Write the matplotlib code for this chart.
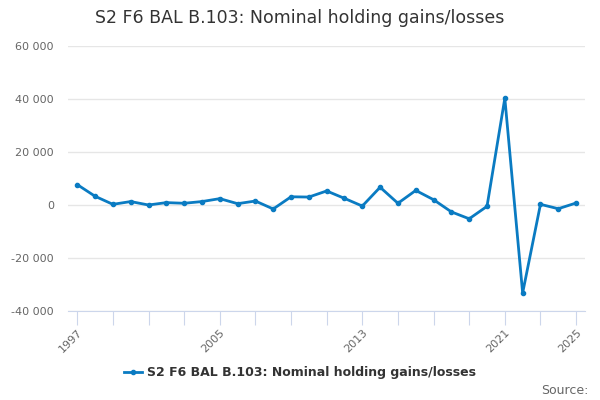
import matplotlib
matplotlib.use("Agg")
import matplotlib.pyplot as plt
from matplotlib.ticker import FuncFormatter

years = list(range(1997, 2026))
values = [7700, 3300, 250, 1300, 0, 900, 650, 1300, 2400, 500, 1500, -1500,
          3100, 3000, 5300, 2500, -400, 6700, 650, 5500, 2000, -2600, -5200,
          -500, 40300, -33200, 250, -1400, 750]
tick_years = list(range(1997, 2026, 2))
label_years = [1997, 2005, 2013, 2021, 2025]
yticks = [-40000, -20000, 0, 20000, 40000, 60000]
title = "S2 F6 BAL B.103: Nominal holding gains/losses"

line_col = "#0a7bc2"

fig = plt.figure(figsize=(6, 4), dpi=100)
ax = fig.add_axes([0.113, 0.2225, 0.862, 0.6625])

ax.plot(years, values, color=line_col, lw=2, marker="o", ms=3, label=title)

ax.set_xlim(1996.47, 2025.5)
ax.set_ylim(-40000, 60000)
ax.set_yticks(yticks)
ax.yaxis.set_major_formatter(FuncFormatter(lambda v, p: f"{int(v):,}".replace(",", " ")))
ax.grid(axis="y", color="#e6e6e6", lw=1)
ax.set_axisbelow(True)

ax.set_xticks(tick_years)
ax.set_xticklabels([str(y) if y in label_years else "" for y in tick_years],
                   rotation=45, ha="right", rotation_mode="anchor")
ax.tick_params(axis="x", length=10, color="#ccd6eb", labelcolor="#666666", labelsize=8, pad=2)
ax.tick_params(axis="y", length=0, labelcolor="#666666", labelsize=8, pad=10)

for s in ["top", "right", "left"]:
    ax.spines[s].set_visible(False)
ax.spines["bottom"].set_color("#ccd6eb")

fig.text(0.5, 0.955, title, ha="center", va="center", fontsize=12.5, color="#333333")

leg = fig.legend(loc="center", bbox_to_anchor=(0.5, 0.068), frameon=False,
                 prop={"weight": "bold", "size": 9}, handlelength=1.5, handletextpad=0.4)
for t in leg.get_texts():
    t.set_color("#333333")

fig.text(0.98, 0.025, "Source:", ha="right", va="center", fontsize=9, color="#666666")

fig.savefig("out.png", dpi=100)
